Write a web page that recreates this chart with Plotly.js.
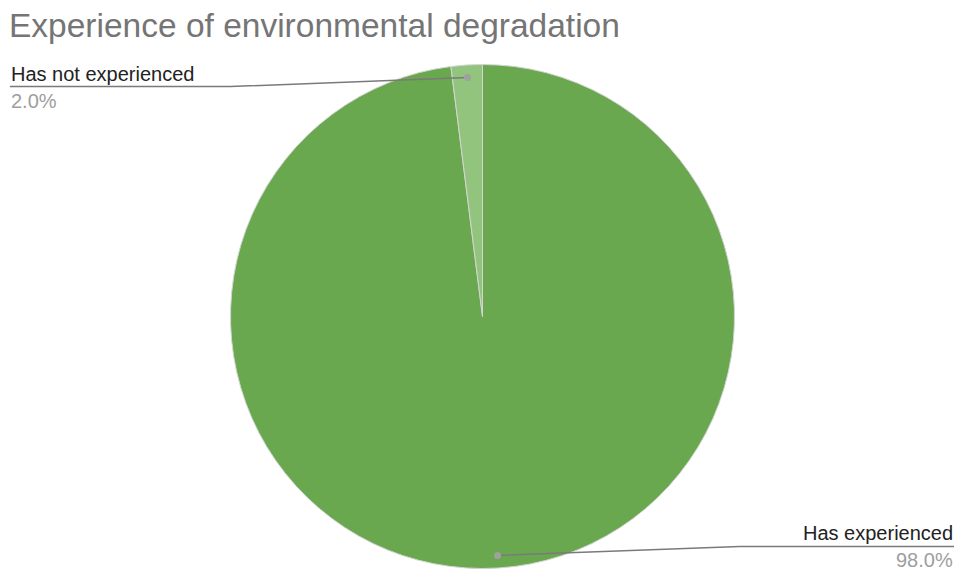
<!DOCTYPE html>
<html>
<head>
<meta charset="utf-8">
<script src="https://cdn.plot.ly/plotly-3.0.1.min.js"></script>
<style>
  html, body { margin: 0; padding: 0; background: #fff; }
  #chart { width: 957px; height: 572px; }
</style>
</head>
<body>
<div id="chart"></div>
<script>
// Survey answers and their shares (percent)
const categories = ['Has experienced', 'Has not experienced'];
const shares = [98.0, 2.0];
const sliceColors = ['#6aa84f', '#93c47d'];

const W = 957, H = 572;
// Pie placement in pixels
const CX = 482.5, CY = 316.5, R = 252;

const FONT = '"Liberation Sans", Arial, sans-serif';

// pixel -> paper helpers
const px = x => x / W;
const py = y => 1 - y / H;

const shapes = [];
const annotations = [];

// Leader lines and labels derived from each slice's mid-angle
const total = shares.reduce((a, b) => a + b, 0);
let start = 0;
shares.forEach((v, i) => {
  const span = v / total * 360;
  const mid = (start + span / 2) * Math.PI / 180;
  start += span;

  const s = Math.sin(mid), c = Math.cos(mid);
  const dotX = CX + 0.95 * R * s;
  const dotY = CY - 0.95 * R * c;
  const right = s > 0;
  const kneeX = CX + (right ? 1.02 : -1.0) * R;
  const kneeY = dotY + (c > 0 ? 9 : -9);
  const endX = right ? 954 : 10;

  shapes.push({
    type: 'path', xref: 'paper', yref: 'paper',
    path: `M ${px(dotX)},${py(dotY)} L ${px(kneeX)},${py(kneeY)} L ${px(endX)},${py(kneeY)}`,
    line: { color: '#7a7a7a', width: 1.5 }
  });
  shapes.push({
    type: 'circle', xref: 'paper', yref: 'paper',
    x0: px(dotX - 3.5), x1: px(dotX + 3.5), y0: py(dotY + 3.5), y1: py(dotY - 3.5),
    fillcolor: '#a0a0a0', line: { width: 0 }
  });

  annotations.push({
    xref: 'paper', yref: 'paper', showarrow: false,
    x: px(endX), y: py(kneeY - 1),
    xanchor: right ? 'right' : 'left', yanchor: 'bottom',
    text: categories[i],
    font: { family: FONT, size: 20, color: '#222222' },
    borderpad: 0
  });
  annotations.push({
    xref: 'paper', yref: 'paper', showarrow: false,
    x: px(endX), y: py(kneeY + 2),
    xanchor: right ? 'right' : 'left', yanchor: 'top',
    text: v.toFixed(1) + '%',
    font: { family: FONT, size: 20, color: '#9e9e9e' },
    borderpad: 0
  });
});

const data = [{
  type: 'pie',
  labels: categories,
  values: shares,
  sort: false,
  direction: 'clockwise',
  rotation: 0,
  textinfo: 'none',
  hoverinfo: 'label+percent',
  marker: { colors: sliceColors, line: { color: '#d4d4d4', width: 1 } },
  domain: { x: [px(CX - R), px(CX + R)], y: [py(CY + R), py(CY - R)] },
  showlegend: false
}];

const layout = {
  width: W, height: H,
  margin: { l: 0, r: 0, t: 0, b: 0 },
  paper_bgcolor: '#ffffff',
  title: {
    text: 'Experience of environmental degradation',
    x: px(9), xref: 'paper', xanchor: 'left',
    y: py(25), yref: 'container', yanchor: 'middle',
    font: { family: FONT, size: 33.5, color: '#757575' }
  },
  showlegend: false,
  shapes: shapes,
  annotations: annotations
};

Plotly.newPlot('chart', data, layout, { displayModeBar: false, staticPlot: true });
</script>
</body>
</html>
